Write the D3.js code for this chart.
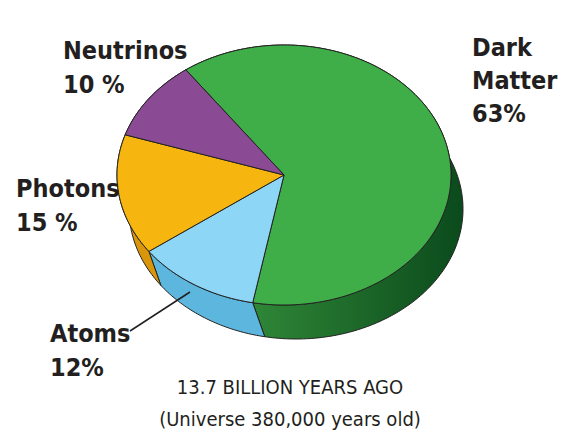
<!DOCTYPE html>
<html><head><meta charset="utf-8">
<script src="https://cdn.jsdelivr.net/npm/d3@7"></script>
<style>body{margin:0;background:#fff}</style></head>
<body><svg id="c" width="570" height="431"></svg>
<script>
const categories = ["Dark Matter","Atoms","Photons","Neutrinos"];
const values = [63,12,15,10];
const topColors = ["#3fae49","#8ed6f5","#f7b50f","#8b4b94"];
const sideColors = ["#1d7a2e","#5db6de","#d9960a","#5e2d66"];

const svg = d3.select("#c");
const cx=284, cy=175, rx=167, ry=130, dx=12, dy=34;
const start = -36*Math.PI/180;
const pie = d3.pie().sort(null).startAngle(start).endAngle(start+2*Math.PI)(values);
const pt = (a,o=0)=>[cx+rx*Math.sin(a)+o*dx, cy-ry*Math.cos(a)+o*dy];
function arcPts(a,b,o){const n=Math.max(4,Math.ceil((b-a)*60));return d3.range(n+1).map(i=>pt(a+(b-a)*i/n,o));}

const defs=svg.append("defs");
const g=defs.append("linearGradient").attr("id","dm").attr("x1",0).attr("x2",1).attr("y1",0).attr("y2",0);
g.append("stop").attr("offset","0%").attr("stop-color","#3a9a3f");
g.append("stop").attr("offset","100%").attr("stop-color","#0b4a1c");

pie.forEach((d,i)=>{
  const top=arcPts(d.startAngle,d.endAngle,0), bot=arcPts(d.startAngle,d.endAngle,1).reverse();
  svg.append("path").attr("d",d3.line()(top.concat(bot))+"Z")
    .attr("fill", i===0?"url(#dm)":sideColors[i]).attr("stroke","#222").attr("stroke-width",1);
});
pie.forEach((d,i)=>{
  const p=[[cx,cy]].concat(arcPts(d.startAngle,d.endAngle,0));
  svg.append("path").attr("d",d3.line()(p)+"Z").attr("fill",topColors[i]).attr("stroke","#222").attr("stroke-width",1);
});

const font="'DejaVu Sans Condensed','DejaVu Sans',sans-serif";
const labels=[["Dark",472,56],["Matter",472,89],["63%",472,122],["Neutrinos",63,59],["10 %",63,93],
 ["Photons",16,197],["15 %",16,231],["Atoms",50,342],["12%",50,376]];
labels.forEach(l=>svg.append("text").text(l[0]).attr("x",l[1]).attr("y",l[2])
  .attr("font-family",font).attr("font-weight","bold").attr("font-size",25).attr("fill","#231f20"));
svg.append("line").attr("x1",130).attr("y1",331).attr("x2",190).attr("y2",292).attr("stroke","#231f20").attr("stroke-width",1.5);
svg.append("text").text("13.7 BILLION YEARS AGO").attr("x",290).attr("y",394).attr("text-anchor","middle")
  .attr("font-family",font).attr("font-size",20).attr("fill","#231f20");
svg.append("text").text("(Universe 380,000 years old)").attr("x",290).attr("y",426).attr("text-anchor","middle")
  .attr("font-family",font).attr("font-size",20).attr("fill","#231f20");
</script></body></html>
